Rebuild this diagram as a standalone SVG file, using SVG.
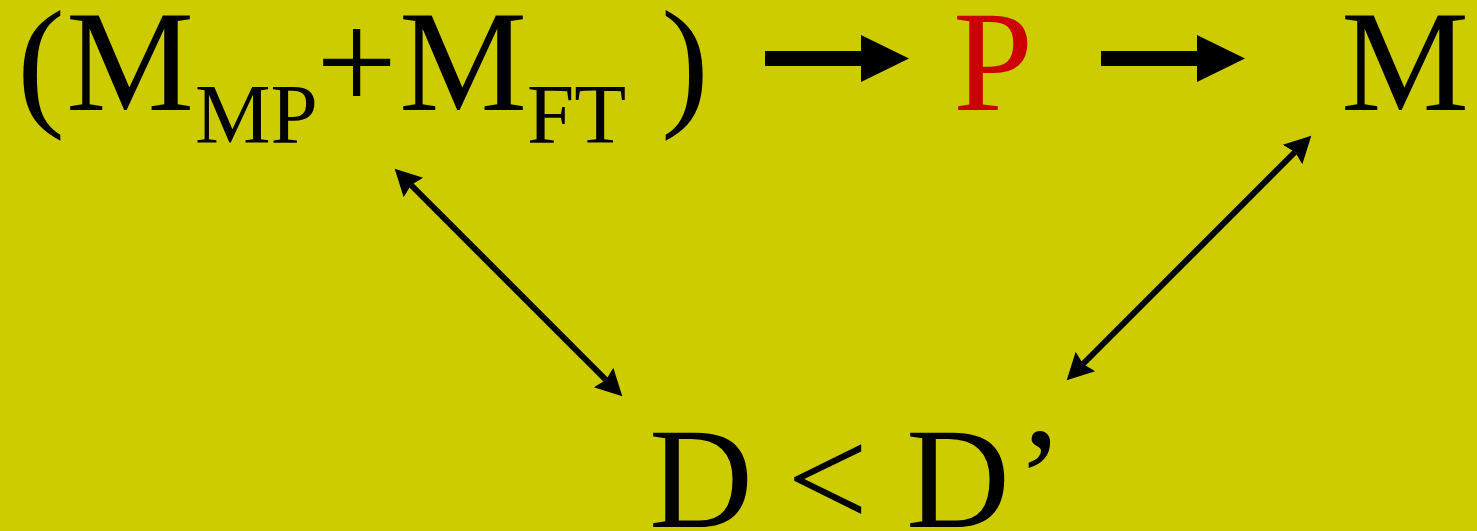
<svg xmlns="http://www.w3.org/2000/svg" width="1477" height="531" viewBox="0 0 1477 531">
<style>
.t{font-family:"Liberation Serif","Times New Roman",serif;fill:#000}
.big{font-size:144px}
.sub{font-size:85px}
.red{fill:#CC0000}
.con{stroke:#000;stroke-width:6;fill:none}
</style>
<defs>
<marker id="ah" markerUnits="userSpaceOnUse" markerWidth="30" markerHeight="30" viewBox="0 -13 26 26" refX="3" refY="0" orient="auto-start-reverse">
<path d="M0,-12 L23,0 L0,12 L3,0 z" fill="#000"/>
</marker>
</defs>
<rect x="0" y="0" width="1477" height="531" fill="#CCCC00"/>
<g id="node-mmp-mft">
<text class="t big" x="17" y="110">(</text>
<text class="t big" x="66" y="110">M</text>
<text class="t sub" x="195" y="143">MP</text>
<text class="t big" x="316" y="110">+</text>
<text class="t big" x="399" y="110">M</text>
<text class="t sub" x="527" y="143">FT</text>
<text class="t big" x="661" y="110">)</text>
</g>
<g id="node-p">
<text class="t big red" x="953" y="110">P</text>
</g>
<g id="node-m">
<text class="t big" x="1341" y="110">M</text>
</g>
<g id="node-d">
<text class="t big" x="649" y="527">D</text>
<text class="t big" x="787" y="527">&lt;</text>
<text class="t big" x="906" y="527">D</text>
<text class="t big" x="1016" y="527">’</text>
</g>
<g id="connectors">
<path d="M765,51 H861 V35 L909,58.5 L861,82 V66 H765 z" fill="#000"/>
<path d="M1101,51 H1197 V35 L1245,58.5 L1197,82 V66 H1101 z" fill="#000"/>
<line class="con" x1="411" y1="185" x2="606" y2="380" marker-start="url(#ah)" marker-end="url(#ah)"/>
<line class="con" x1="1295" y1="152" x2="1083" y2="364" marker-start="url(#ah)" marker-end="url(#ah)"/>
</g>
</svg>
